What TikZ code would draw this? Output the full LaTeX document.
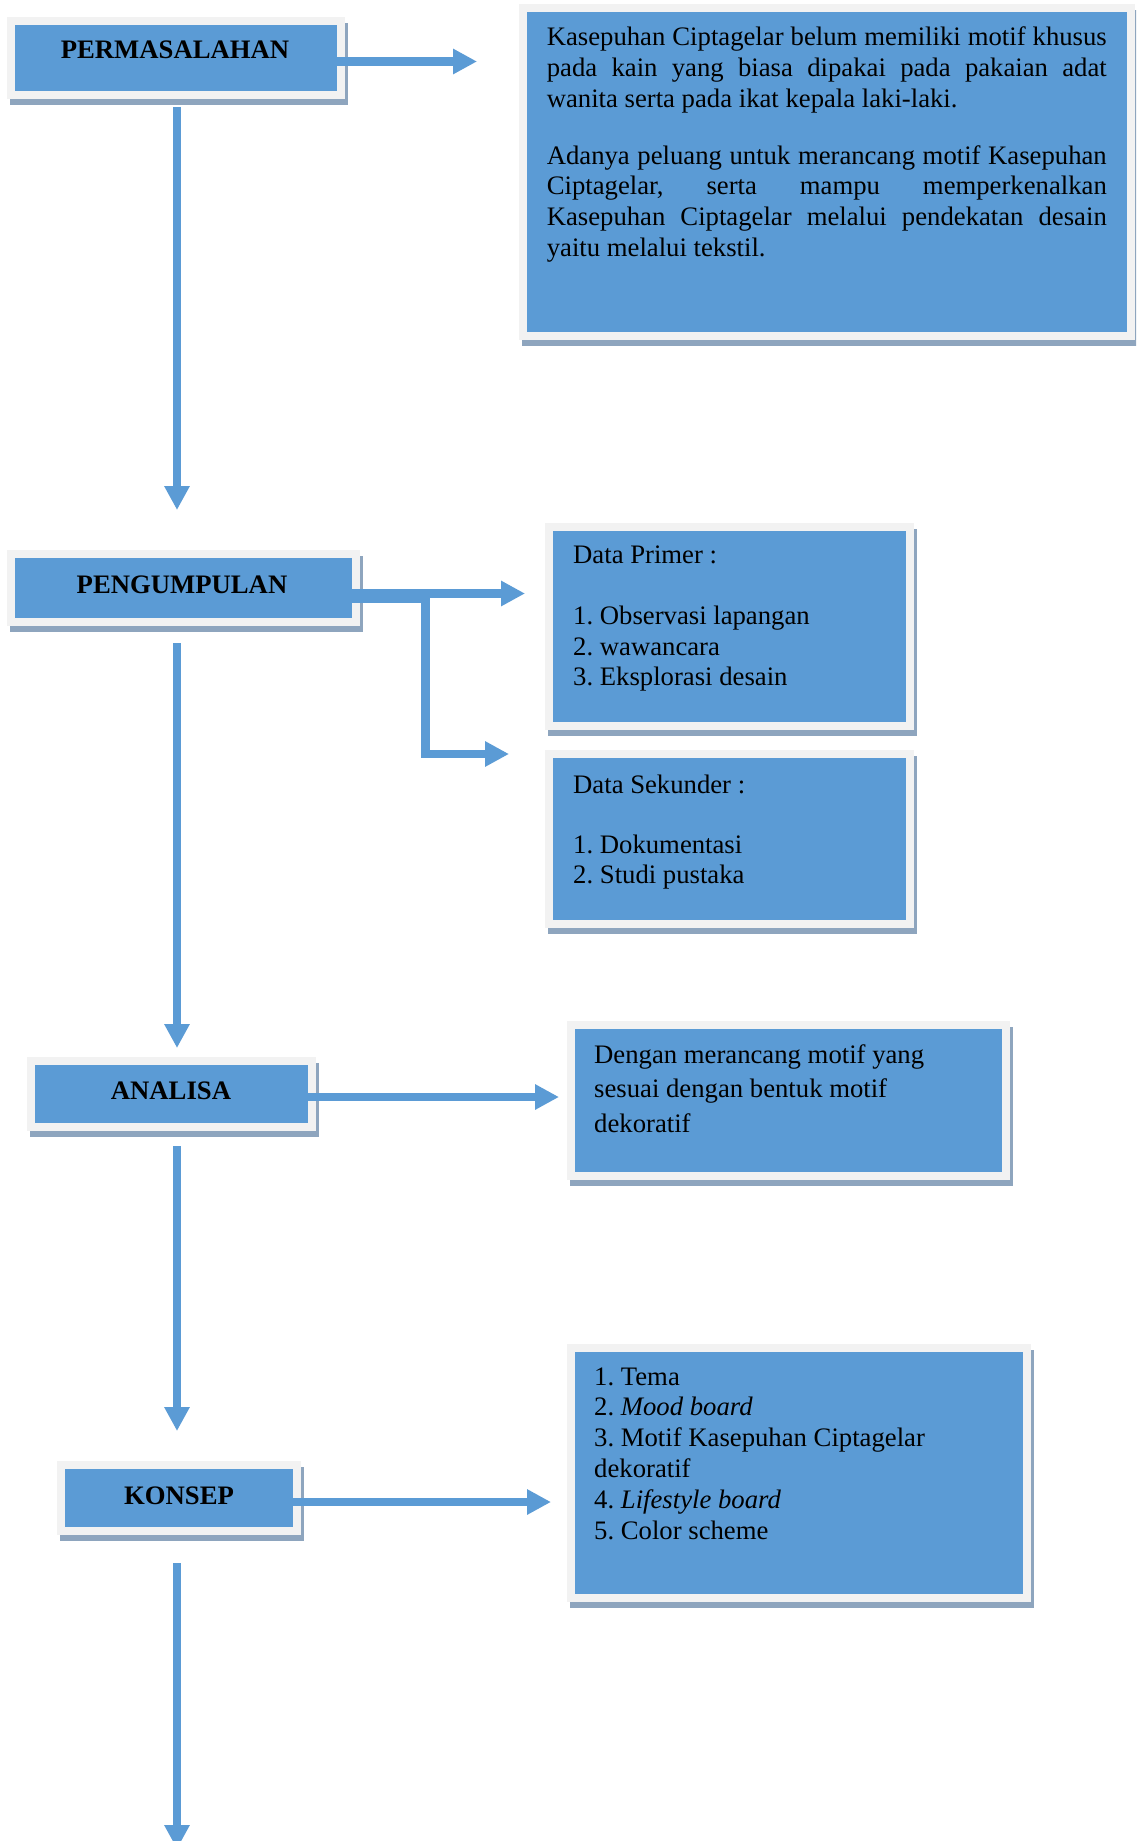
\documentclass[tikz,border=0pt]{standalone}
\usepackage{fontspec}
\setmainfont{Liberation Serif}
\usetikzlibrary{arrows.meta,calc}
\definecolor{boxblue}{HTML}{5B9BD5}
\definecolor{framec}{HTML}{F2F2F2}
\definecolor{shadowc}{HTML}{8EA5BE}
\begin{document}
\begin{tikzpicture}[x=1pt,y=-1pt,
  boxnode/.style={rectangle, anchor=north west, inner sep=0pt, outer sep=0pt,
    fill=boxblue, draw=framec, line width=8pt,
    preaction={draw=shadowc, fill=shadowc, transform canvas={shift={(3pt,-6pt)}}}},
  title/.style={anchor=base, inner sep=0pt, font=\fontsize{26.7}{30.7}\selectfont\bfseries},
  body/.style={anchor=base west, inner sep=0pt, align=flush left, font=\fontsize{26.7}{30.7}\selectfont\frenchspacing},
  arr/.style={draw=boxblue, line width=8.5pt, line join=miter,
    -{Triangle[length=24pt,width=24pt]}},
  ]
\clip (0,0) rectangle (1136,1841);
\fill[white] (0,0) rectangle (1136,1841);

% boxes
\node[boxnode, minimum width=330pt, minimum height=74pt] (perm) at (11,21) {};
\node[boxnode, minimum width=608pt, minimum height=328pt] (prob) at (523,8) {};
\node[boxnode, minimum width=345pt, minimum height=68pt] (peng) at (11,554) {};
\node[boxnode, minimum width=361pt, minimum height=199pt] (prim) at (549,527) {};
\node[boxnode, minimum width=361pt, minimum height=170pt] (sek) at (549,754) {};
\node[boxnode, minimum width=281pt, minimum height=66pt] (anal) at (31,1061) {};
\node[boxnode, minimum width=435pt, minimum height=151pt] (deng) at (571,1025) {};
\node[boxnode, minimum width=236pt, minimum height=66pt] (kons) at (61,1465) {};
\node[boxnode, minimum width=456pt, minimum height=250pt] (list) at (571,1348) {};

% texts
\node[title] (tperm) at (175,59) {PERMASALAHAN};
\node[title] (tpeng) at (182,593) {PENGUMPULAN};
\node[title] (tanal) at (171,1099) {ANALISA};
\node[title] (tkons) at (179,1504) {KONSEP};

\node[body, align=justify, text width=560pt] (tprob) at (546.6,46)
  {Kasepuhan Ciptagelar belum memiliki motif khusus\linebreak
   pada kain yang biasa dipakai pada pakaian adat\linebreak
   wanita serta pada ikat kepala laki-laki.\par\vskip 26pt
   Adanya peluang untuk merancang motif Kasepuhan\linebreak
   Ciptagelar, serta mampu memperkenalkan\linebreak
   Kasepuhan Ciptagelar melalui pendekatan desain\linebreak
   yaitu melalui tekstil.};

\node[body, text width=330pt] (tprim) at (573,563)
  {Data Primer :\\[30.7pt]
   1. Observasi lapangan\\
   2. wawancara\\
   3. Eksplorasi desain};

\node[body, text width=330pt] (tsek) at (573,793)
  {Data Sekunder :\\[29.5pt]
   1. Dokumentasi\\
   2. Studi pustaka};

\node[body, text width=400pt, font=\fontsize{26.7}{34.5}\selectfont\frenchspacing] (tdeng) at (594,1063)
  {Dengan merancang motif yang\\
   sesuai dengan bentuk motif\\
   dekoratif};

\node[body, text width=420pt, font=\fontsize{26.7}{30.8}\selectfont\frenchspacing] (tlist) at (594,1385)
  {1. Tema\\
   2. \textit{Mood board}\\
   3. Motif Kasepuhan Ciptagelar\\
   dekoratif\\
   4. \textit{Lifestyle board}\\
   5. Color scheme};

% free ends of connectors
\coordinate (h1) at (477,61.5);
\coordinate (h2) at (525,593.5);
\coordinate (elb) at (425.5,754);
\coordinate (h3) at (509,754);
\coordinate (h4) at (559,1097);
\coordinate (h5) at (551,1502);
\coordinate (v1) at (177,510);
\coordinate (v2) at (177,1048);
\coordinate (v3) at (177,1431);
\coordinate (v4) at (177,1849);

% horizontal connectors
\draw[arr] ($(perm.east)+(-4,3.5)$) -- (h1);
\draw[arr] ($(peng.east)+(-4,5.5)$) -- (h2);
\draw[arr] ($(peng.east)+(-4,11)$) -| (elb) -- (h3);
\draw[arr] ($(anal.east)+(-4,3)$) -- (h4);
\draw[arr] ($(kons.east)+(-4,4)$) -- (h5);

% vertical connectors
\draw[arr] ($(perm.south -| v1)+(0,12)$) -- (v1);
\draw[arr] ($(peng.south -| v2)+(0,21)$) -- (v2);
\draw[arr] ($(anal.south -| v3)+(0,19)$) -- (v3);
\draw[arr] ($(kons.south -| v4)+(0,32)$) -- (v4);
\end{tikzpicture}
\end{document}
